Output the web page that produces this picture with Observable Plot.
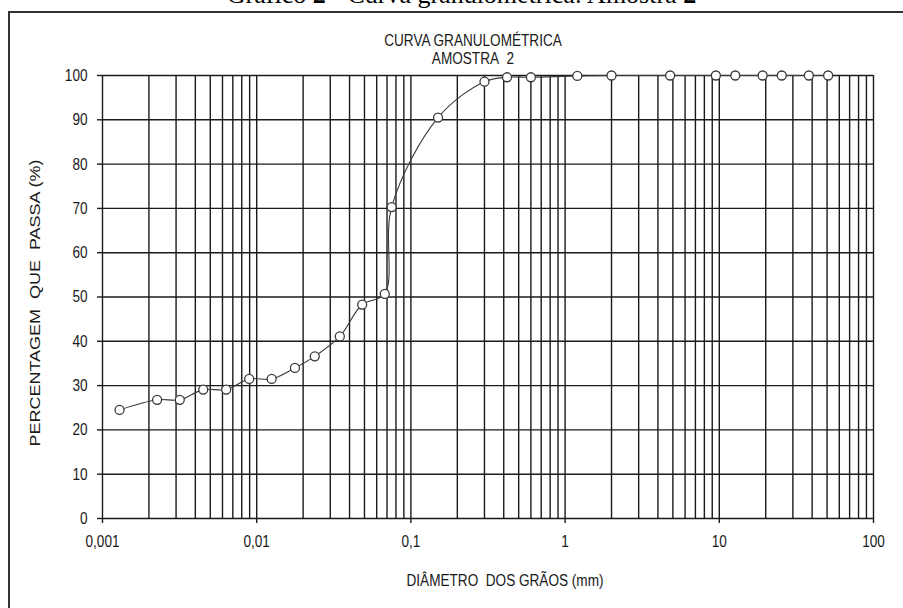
<!DOCTYPE html>
<html>
<head>
<meta charset="utf-8">
<script src="https://cdn.jsdelivr.net/npm/d3@7"></script>
<script src="https://cdn.jsdelivr.net/npm/@observablehq/plot@0.6"></script>
<style>
  body { margin: 0; background: #fff; }
  #page { position: relative; width: 903px; height: 608px; overflow: hidden; background: #fff; }
  #title { position: relative; height: 12px; overflow: hidden; }
  #title div { position: absolute; left: 10px; width: 903px; top: -18px; text-align: center;
    font: 26px/26px "Liberation Serif", "Times New Roman", serif; color: #000; white-space: nowrap; }
  #border { position: absolute; left: 8px; top: 11px; width: 1000px; height: 1000px;
    border-left: 2px solid #333; border-top: 2px solid #333; pointer-events: none; }
</style>
</head>
<body>
<div id="page">
  <div id="title"><div>Gráfico <b>2</b> - Curva granulométrica: Amostra <b>2</b></div></div>
  <div id="chart"></div>
  <div id="border"></div>
</div>
<script>
// Grain diameters (mm) and percentage passing
const diameters = [0.00129, 0.00226, 0.00317, 0.0045, 0.00634, 0.00894, 0.0125, 0.0177, 0.0238,
  0.0346, 0.0483, 0.0677, 0.075, 0.15, 0.3, 0.42, 0.6, 1.2, 2.0, 4.8, 9.5, 12.7, 19.1, 25.4, 38.1, 50.8];
const percents = [24.5, 26.8, 26.8, 29.1, 29.1, 31.5, 31.5, 34.0, 36.6,
  41.1, 48.3, 50.7, 70.3, 90.5, 98.6, 99.6, 99.6, 99.9, 100, 100, 100, 100, 100, 100, 100, 100];

const xTicks = [0.001, 0.01, 0.1, 1, 10, 100];
const xTickLabels = ["0,001", "0,01", "0,1", "1", "10", "100"];
const yTicks = [0, 10, 20, 30, 40, 50, 60, 70, 80, 90, 100];
const gridMultipliers = [1, 2, 3, 4, 5, 6, 7, 8, 9];

const chartTitle = ["CURVA GRANULOMÉTRICA", "AMOSTRA\u00a0 2"];
const xLabel = "DIÂMETRO\u00a0 DOS GRÃOS (mm)";
const yLabel = "PERCENTAGEM\u00a0 QUE\u00a0 PASSA (%)";

const data = diameters.map((d, i) => ({d, p: percents[i]}));
const gridX = xTicks.slice(0, -1)
  .flatMap(t => gridMultipliers.map(m => +(t * m).toPrecision(3)))
  .concat([xTicks[xTicks.length - 1]]);

const SANS = '"Liberation Sans", Arial, sans-serif';
const INK = "#1a1a1a";

const plot = Plot.plot({
  width: 903,
  height: 596,
  marginLeft: 102,
  marginRight: 30,
  marginTop: 63,
  marginBottom: 90,
  style: {fontFamily: SANS, fontSize: "17px", color: INK, background: "#fff", overflow: "visible"},
  x: {type: "log", domain: [0.001, 100]},
  y: {domain: [0, 100]},
  marks: [
    Plot.ruleX(gridX, {stroke: INK, strokeWidth: 1.4}),
    Plot.ruleY(yTicks, {stroke: INK, strokeWidth: 1.4}),
    Plot.axisY({ticks: yTicks, tickSize: 5, tickPadding: 10, label: null, tickFormat: d => String(d), stroke: INK, strokeWidth: 1.4}),
    Plot.axisX({ticks: xTicks, tickSize: 5, tickPadding: 11, label: null,
      tickFormat: d => xTickLabels[xTicks.indexOf(d)], stroke: INK, strokeWidth: 1.4}),
    Plot.line(data, {x: "d", y: "p", curve: "catmull-rom", stroke: "#3a3a3a", strokeWidth: 1.1}),
    Plot.dot(data, {x: "d", y: "p", r: 4.5, fill: "white", stroke: "#3a3a3a", strokeWidth: 1.3}),
    Plot.text([chartTitle[0]], {text: d => d, frameAnchor: "top", textAnchor: "middle", lineAnchor: "middle", dx: -15, dy: -35, fill: INK}),
    Plot.text([chartTitle[1]], {text: d => d, frameAnchor: "top", textAnchor: "middle", lineAnchor: "middle", dx: -15, dy: -17, fill: INK}),
    Plot.text([xLabel], {text: d => d, frameAnchor: "bottom", textAnchor: "middle", lineAnchor: "middle", dx: 17, dy: 62, fill: INK}),
    Plot.text([yLabel], {text: d => d, frameAnchor: "left", textAnchor: "middle", lineAnchor: "middle", rotate: -90,
      dx: -67, dy: 6, fill: INK, fontSize: 18})
  ]
});

// The reference's lettering is horizontally condensed: squeeze each text about its anchor.
plot.querySelectorAll("text").forEach(t => {
  const tr = t.getAttribute("transform") || "";
  const rotated = /rotate/.test(tr);
  t.setAttribute("transform", tr + (rotated ? " scale(1,0.78)" : " scale(0.8,1)"));
});
document.getElementById("chart").appendChild(plot);
</script>
</body>
</html>
